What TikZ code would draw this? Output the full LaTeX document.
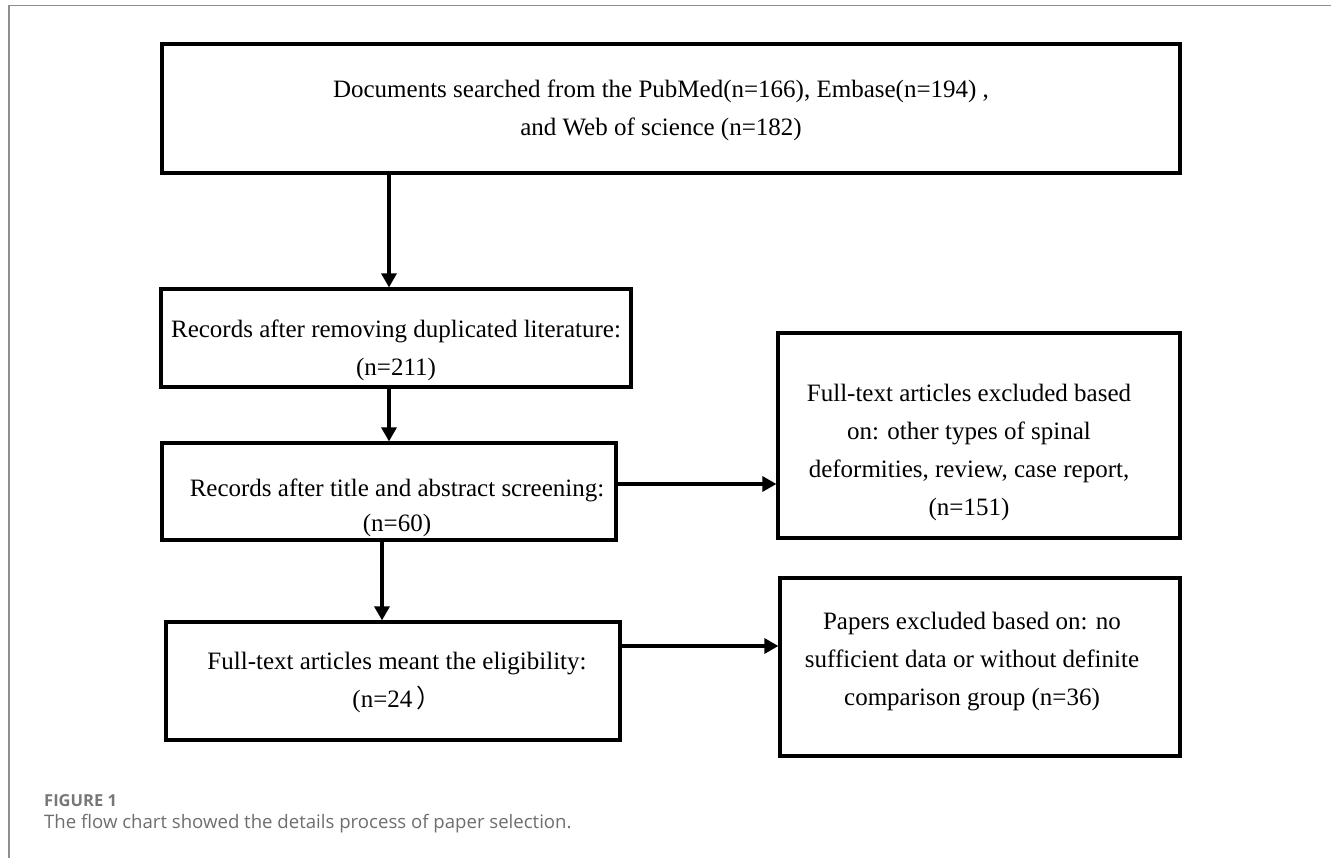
\documentclass[tikz,border=0pt]{standalone}
\usepackage{fontspec}
\setmainfont{Liberation Serif}
\newfontfamily\tnr{Liberation Serif}
\newfontfamily\capfont{Open Sans}
\newfontfamily\cjk{Noto Sans CJK SC}
\usetikzlibrary{arrows.meta}
\definecolor{framegray}{HTML}{8E8E8E}
\definecolor{capgray}{HTML}{777777}
\definecolor{captext}{HTML}{6E6E6E}
\tikzset{
  boxshape/.style={draw=black, line width=3.2pt, rectangle, inner sep=0pt},
  boxtext/.style={align=center, inner sep=0pt, font=\tnr\fontsize{25}{38}\selectfont},
  arr/.style={line width=3.2pt, -{Triangle[length=14pt,width=15pt]}},
  frameline/.style={draw=framegray, line width=1.1pt}
}
\begin{document}
\begin{tikzpicture}[x=1pt,y=-1pt]
\useasboundingbox (0,0) rectangle (1331,858);
\fill[white] (0,0) rectangle (1331,858);
% outer frame (left and top edges)
\coordinate (fbl) at (9,858);
\coordinate (ftl) at (9,5.5);
\coordinate (ftr) at (1331,5.5);
\draw[frameline] (fbl) -- (ftl) -- (ftr);

% boxes
\node[boxshape, minimum width=1018pt, minimum height=129pt] (top) at (671,108.5) {};
\node[boxshape, minimum width=470pt, minimum height=98pt] (b2) at (396,338) {};
\node[boxshape, minimum width=454pt, minimum height=97pt] (b3) at (389,491.5) {};
\node[boxshape, minimum width=454pt, minimum height=118pt] (b4) at (393,681) {};
\node[boxshape, minimum width=402pt, minimum height=205pt] (r1) at (979,435.5) {};
\node[boxshape, minimum width=400pt, minimum height=178pt] (r2) at (980,667) {};

% texts
\node[boxtext] (ttop) at (661,110) {Documents searched from the PubMed(n=166), Embase(n=194) ,\\and Web of science (n=182)};
\node[boxtext] (tb2) at (396,350) {Records after removing duplicated literature:\\(n=211)};
\node[boxtext, font=\tnr\fontsize{25}{35}\selectfont] (tb3) at (397,508) {Records after title and abstract screening:\\(n=60)};
\node[boxtext] (tb4) at (397,682) {Full-text articles meant the eligibility:\\(n=24\,{\cjk ）}};
\node[boxtext] (tr1) at (969,452) {Full-text articles excluded based\\on: other types of spinal\\deformities, review, case report,\\(n=151)};
\node[boxtext] (tr2) at (972,662) {Papers excluded based on: no\\sufficient data or without definite\\comparison group (n=36)};

% connector guides
\coordinate (vx1) at (389,0);
\coordinate (vx2) at (382,0);
\coordinate (hy1) at (0,484);
\coordinate (hy2) at (0,646);

\draw[arr] (top.south -| vx1) -- (b2.north -| vx1);
\draw[arr] (b2.south -| vx1) -- (b3.north -| vx1);
\draw[arr] (b3.south -| vx2) -- (b4.north -| vx2);
\draw[arr] (b3.east |- hy1) -- (r1.west |- hy1);
\draw[arr] (b4.east |- hy2) -- (r2.west |- hy2);

% caption
\node[anchor=west, inner sep=0pt, text=capgray, font=\capfont\bfseries\fontsize{16.5}{18}\selectfont] (figlabel) at (44,801) {FIGURE 1};
\node[anchor=west, inner sep=0pt, text=captext, font=\capfont\fontsize{18.6}{20}\selectfont] (figcap) at (44,824) {The flow chart showed the details process of paper selection.};
\end{tikzpicture}
\end{document}
